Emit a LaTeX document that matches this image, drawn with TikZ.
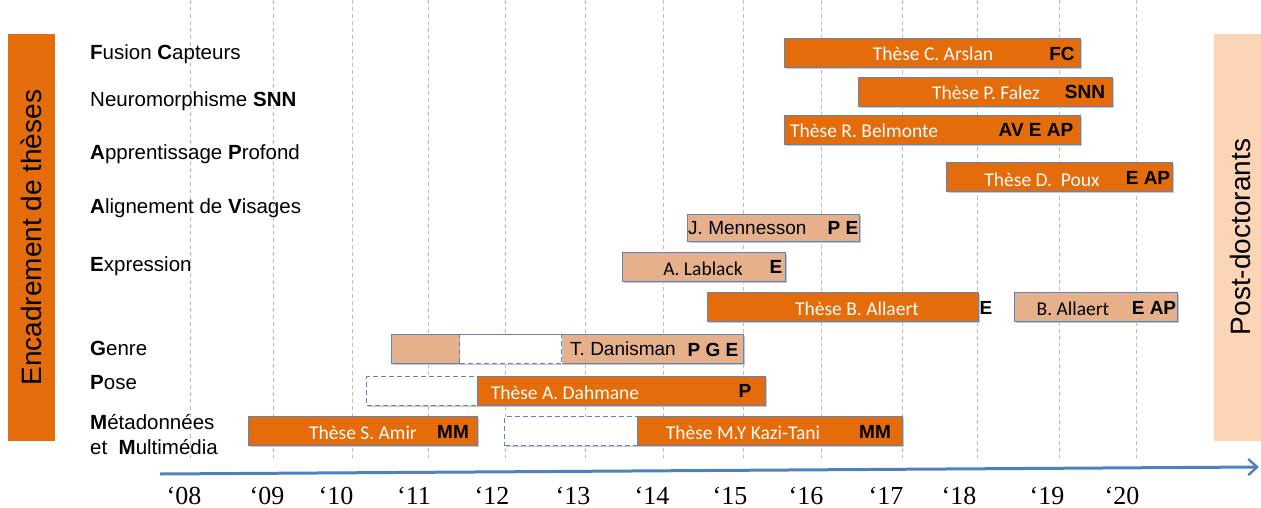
\documentclass[tikz,border=0pt]{standalone}
\usepackage{fontspec}
\setmainfont{Liberation Sans}
\newfontfamily\calfont{Carlito}
\newfontfamily\tmsfont{Liberation Serif}
\usetikzlibrary{arrows.meta}
\definecolor{orng}{HTML}{E46C0A}
\definecolor{peach}{HTML}{E6B18A}
\definecolor{lpeach}{HTML}{FBD5B5}
\definecolor{bord}{HTML}{5B86C0}
\definecolor{axblue}{HTML}{4F81BD}
\definecolor{grid}{HTML}{BDBDBD}
\tikzset{
  barbase/.style={draw=bord, line width=1.3pt, anchor=north west, inner sep=0pt,
    preaction={fill=black!22, transform canvas={xshift=1.2pt,yshift=-1.8pt}}},
  obar/.style={barbase, fill=orng},
  pbar/.style={barbase, fill=peach},
  wbar/.style={barbase, fill=white, dashed, dash pattern=on 5pt off 3pt},
  wtxt/.style={text=white, font=\calfont\fontsize{19.5}{21}\selectfont, inner sep=0pt, anchor=base},
  btxt/.style={text=black, font=\bfseries\fontsize{19}{21}\selectfont, inner sep=0pt, anchor=base},
  ktxt/.style={text=black, font=\fontsize{19}{21}\selectfont, inner sep=0pt, anchor=base},
  ktxtc/.style={text=black, font=\calfont\fontsize{19.5}{21}\selectfont, inner sep=0pt, anchor=base},
  lab/.style={anchor=west, font=\fontsize{20.5}{23}\selectfont, inner sep=0pt, align=left},
  yr/.style={font=\tmsfont\fontsize{26}{28}\selectfont, inner sep=0pt, anchor=base},
  gline/.style={draw=grid, dashed, dash pattern=on 4pt off 3pt, line width=0.8pt},
  axis/.style={draw=axblue, line width=3pt, -{Straight Barb[length=9pt,width=16pt,line width=2.4pt]}},
}
\begin{document}
\begin{tikzpicture}[x=1pt,y=-1pt]
\useasboundingbox (0,0) rectangle (1261,508);
% grid lines
\foreach \gx [count=\i] in {190,273,352,428,505,585,663,743,821,902,977,1059,1136}{
  \coordinate (gt\i) at (\gx,0);
  \coordinate (gb\i) at (\gx,458);
  \draw[gline] (gt\i) -- (gb\i);
}
% side bands
\node[fill=orng, minimum width=47pt, minimum height=407pt, anchor=north west, inner sep=0pt] (lband) at (8,34) {};
\node[rotate=90, font=\fontsize{28}{30}\selectfont] (ltxt) at (lband.center) {Encadrement de thèses};
\node[fill=lpeach, minimum width=47pt, minimum height=407pt, anchor=north west, inner sep=0pt] (rband) at (1214,34) {};
\node[rotate=90, font=\fontsize{28}{30}\selectfont] (rtxt) at (1240,237) {Post-doctorants};
% left labels
\node[lab] (l1) at (90,54) {\textbf{F}usion \textbf{C}apteurs};
\node[lab] (l2) at (90,101) {Neuromorphisme \textbf{SNN}};
\node[lab] (l3) at (90,154) {\textbf{A}pprentissage \textbf{P}rofond};
\node[lab] (l4) at (90,208) {\textbf{A}lignement de \textbf{V}isages};
\node[lab] (l5) at (90,266) {\textbf{E}xpression};
\node[lab] (l6) at (90,348) {\textbf{G}enre};
\node[lab] (l7) at (90,383) {\textbf{P}ose};
\node[lab] (l8) at (90,422) {\textbf{M}étadonnées};
\node[lab] (l9) at (90,447) {et \ \textbf{M}ultimédia};
% bars
\node[obar, minimum width=296pt, minimum height=29pt] (b1) at (784,38) {};
\node[wtxt] (t1) at (933,61) {Thèse C. Arslan};
\node[btxt] (k1) at (1062,61) {FC};
\node[obar, minimum width=254pt, minimum height=29pt] (b2) at (858,77) {};
\node[wtxt] (t2) at (986,100) {Thèse P. Falez};
\node[btxt] (k2) at (1085,99) {SNN};
\node[obar, minimum width=296pt, minimum height=29pt] (b3) at (784,115) {};
\node[wtxt, anchor=base west] (t3) at (790,138) {Thèse R. Belmonte};
\node[btxt] (k3) at (1036,137) {AV E AP};
\node[obar, minimum width=226pt, minimum height=29pt] (b4) at (946,162) {};
\node[wtxt] (t4) at (1042,186) {Thèse D.\ \ Poux};
\node[btxt] (k4) at (1148,184) {E AP};
\node[pbar, minimum width=172pt, minimum height=27pt] (b5) at (687,214) {};
\node[ktxt, anchor=base west] (t5) at (688,234) {J. Mennesson};
\node[btxt] (k5) at (843,234) {P E};
\node[pbar, minimum width=163pt, minimum height=29pt] (b6) at (622,252) {};
\node[ktxtc] (t6) at (703,275) {A. Lablack};
\node[btxt] (k6) at (776,273) {E};
\node[obar, minimum width=271pt, minimum height=29pt] (b7) at (707,292) {};
\node[wtxt] (t7) at (857,315) {Thèse B. Allaert};
\node[btxt] (k7) at (986,314) {E};
\node[pbar, minimum width=163pt, minimum height=29pt] (b8) at (1014,292) {};
\node[ktxtc] (t8) at (1073,315) {B. Allaert};
\node[btxt] (k8) at (1154,314) {E AP};
\node[pbar, minimum width=352pt, minimum height=29pt] (b9) at (391,334) {};
\node[wbar, minimum width=102pt, minimum height=29pt] (b9w) at (459,334) {};
\node[ktxt] (t9) at (623,355) {T. Danisman};
\node[btxt] (k9) at (713,356) {P G E};
\node[wbar, minimum width=111pt, minimum height=29pt] (b10w) at (366,376) {};
\node[obar, minimum width=288pt, minimum height=29pt] (b10) at (477,376) {};
\node[wtxt] (t10) at (565,399) {Thèse A. Dahmane};
\node[btxt] (k10) at (745,397) {P};
\node[obar, minimum width=229pt, minimum height=29pt] (b11) at (248,416) {};
\node[wtxt] (t11) at (363,439) {Thèse S. Amir};
\node[btxt] (k11) at (453,438) {MM};
\node[wbar, minimum width=133pt, minimum height=29pt] (b12w) at (504,416) {};
\node[obar, minimum width=265pt, minimum height=29pt] (b12) at (637,416) {};
\node[wtxt] (t12) at (743,439) {Thèse M.Y Kazi-Tani};
\node[btxt] (k12) at (875,438) {MM};
% axis
\coordinate (axs) at (160,474);
\coordinate (axe) at (1259,467);
\draw[axis] (axs) -- (axe);
\foreach \yx/\yt [count=\j] in {184/08,267/09,336/10,414/11,492/12,573/13,652/14,730/15,806/16,886/17,959/18,1047/19,1122/20}{
  \node[yr] (y\j) at (\yx,504) {‘\yt};
}
\end{tikzpicture}
\end{document}
